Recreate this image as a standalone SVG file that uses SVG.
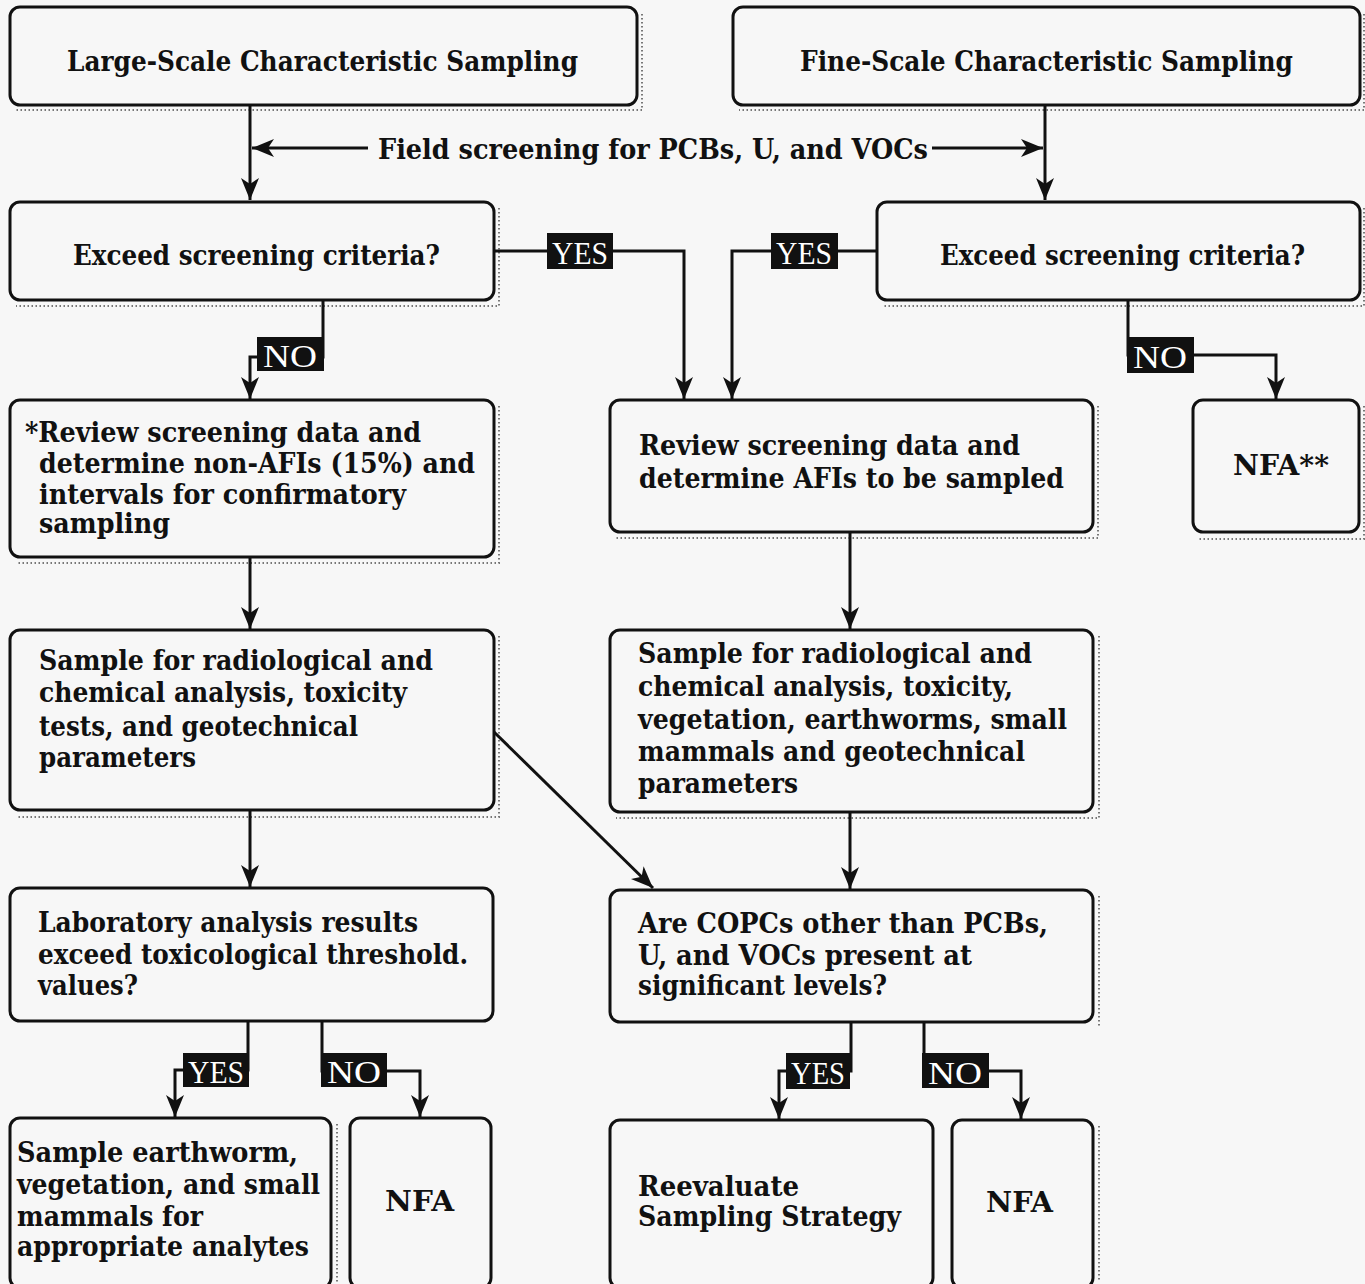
<svg xmlns="http://www.w3.org/2000/svg" width="1365" height="1284" viewBox="0 0 1365 1284">
<defs>
<style>
.bg{fill:#f7f7f7}
.box{fill:#f7f7f7;stroke:#111;stroke-width:3}
.shade{fill:none;stroke:#777;stroke-width:2;stroke-dasharray:1.5 2.5}
.t{font-family:"DejaVu Serif","Liberation Serif",serif;font-weight:bold;fill:#111}
.t30{font-size:27.5px}
.t26{font-size:27px}
.conn{fill:none;stroke:#111;stroke-width:3}
.lab{fill:#111}
.lt{font-family:"Liberation Serif",serif;font-size:31px;fill:#fff;text-anchor:middle}
</style>
<marker id="ah" markerUnits="userSpaceOnUse" markerWidth="24" markerHeight="20" viewBox="0 0 24 20" refX="22" refY="10" orient="auto">
<path d="M0,1 L22,10 L0,19 L6,10 Z" fill="#111"/>
</marker>
</defs>
<rect class="bg" x="0" y="0" width="1365" height="1284"/>

<g id="shadows">
<path class="shade" d="M642,14 V110 H16"/>
<path class="shade" d="M1364,14 V110 H739"/>
<path class="shade" d="M499,208 V306 H16"/>
<path class="shade" d="M1364,208 V306 H883"/>
<path class="shade" d="M499,406 V563 H16"/>
<path class="shade" d="M1098,406 V538 H616"/>
<path class="shade" d="M1364,406 V539 H1199"/>
<path class="shade" d="M499,636 V817 H16"/>
<path class="shade" d="M1099,636 V818 H616"/>
<path class="shade" d="M1099,896 V1028"/>
<path class="shade" d="M337,1124 V1282"/>
<path class="shade" d="M1099,1126 V1282"/>
</g>

<g id="connectors">
<path class="conn" d="M250,105 V200" marker-end="url(#ah)"/>
<path class="conn" d="M1045,105 V200" marker-end="url(#ah)"/>
<path class="conn" d="M368,148 H252" marker-end="url(#ah)"/>
<path class="conn" d="M932,148 H1043" marker-end="url(#ah)"/>
<path class="conn" d="M494,251 H684 V399" marker-end="url(#ah)"/>
<path class="conn" d="M877,251 H732 V399" marker-end="url(#ah)"/>
<path class="conn" d="M323,300 V357 H250 V399" marker-end="url(#ah)"/>
<path class="conn" d="M1128,300 V355 H1276 V399" marker-end="url(#ah)"/>
<path class="conn" d="M250,557 V629" marker-end="url(#ah)"/>
<path class="conn" d="M850,532 V629" marker-end="url(#ah)"/>
<path class="conn" d="M494,732 L653,888" marker-end="url(#ah)"/>
<path class="conn" d="M250,810 V887" marker-end="url(#ah)"/>
<path class="conn" d="M850,812 V889" marker-end="url(#ah)"/>
<path class="conn" d="M248,1020 V1070 H175 V1117" marker-end="url(#ah)"/>
<path class="conn" d="M322,1020 V1071 H420 V1117" marker-end="url(#ah)"/>
<path class="conn" d="M851,1022 V1071 H779 V1119" marker-end="url(#ah)"/>
<path class="conn" d="M924,1022 V1071 H1021 V1119" marker-end="url(#ah)"/>
</g>

<g id="labels">
<rect class="lab" x="547" y="233" width="66" height="36"/>
<text class="lt" x="580" y="264" textLength="56" lengthAdjust="spacingAndGlyphs">YES</text>
<rect class="lab" x="771" y="233" width="67" height="36"/>
<text class="lt" x="804" y="264" textLength="56" lengthAdjust="spacingAndGlyphs">YES</text>
<rect class="lab" x="257" y="337" width="67" height="34"/>
<text class="lt" x="290" y="367" textLength="54" lengthAdjust="spacingAndGlyphs">NO</text>
<rect class="lab" x="1127" y="337" width="67" height="36"/>
<text class="lt" x="1160" y="368" textLength="54" lengthAdjust="spacingAndGlyphs">NO</text>
<rect class="lab" x="183" y="1053" width="66" height="34"/>
<text class="lt" x="216" y="1083" textLength="56" lengthAdjust="spacingAndGlyphs">YES</text>
<rect class="lab" x="321" y="1053" width="66" height="34"/>
<text class="lt" x="354" y="1083" textLength="54" lengthAdjust="spacingAndGlyphs">NO</text>
<rect class="lab" x="786" y="1053" width="64" height="36"/>
<text class="lt" x="818" y="1084" textLength="54" lengthAdjust="spacingAndGlyphs">YES</text>
<rect class="lab" x="922" y="1053" width="67" height="35"/>
<text class="lt" x="955" y="1084" textLength="54" lengthAdjust="spacingAndGlyphs">NO</text>
</g>

<g id="field-screening">
<text class="t t30" x="378" y="159" textLength="550" lengthAdjust="spacingAndGlyphs">Field screening for PCBs, U, and VOCs</text>
</g>

<g id="large-scale">
<rect class="box" x="10" y="7" width="627" height="98" rx="10"/>
<text class="t t30" x="67" y="71" textLength="511" lengthAdjust="spacingAndGlyphs">Large-Scale Characteristic Sampling</text>
</g>

<g id="fine-scale">
<rect class="box" x="733" y="7" width="627" height="98" rx="10"/>
<text class="t t30" x="800" y="71" textLength="493" lengthAdjust="spacingAndGlyphs">Fine-Scale Characteristic Sampling</text>
</g>

<g id="exceed-left">
<rect class="box" x="10" y="202" width="484" height="98" rx="10"/>
<text class="t t30" x="73" y="265" textLength="367" lengthAdjust="spacingAndGlyphs">Exceed screening criteria?</text>
</g>

<g id="exceed-right">
<rect class="box" x="877" y="202" width="483" height="98" rx="10"/>
<text class="t t30" x="940" y="265" textLength="365" lengthAdjust="spacingAndGlyphs">Exceed screening criteria?</text>
</g>

<g id="review-left">
<rect class="box" x="10" y="400" width="484" height="157" rx="10"/>
<text class="t t26" x="25" y="442" textLength="396" lengthAdjust="spacingAndGlyphs">*Review screening data and</text>
<text class="t t26" x="39" y="473" textLength="436" lengthAdjust="spacingAndGlyphs">determine non-AFIs (15%) and</text>
<text class="t t26" x="39" y="504" textLength="367" lengthAdjust="spacingAndGlyphs">intervals for confirmatory</text>
<text class="t t26" x="39" y="533" textLength="131" lengthAdjust="spacingAndGlyphs">sampling</text>
</g>

<g id="review-right">
<rect class="box" x="610" y="400" width="483" height="132" rx="10"/>
<text class="t t26" x="639" y="455" textLength="381" lengthAdjust="spacingAndGlyphs">Review screening data and</text>
<text class="t t26" x="639" y="488" textLength="425" lengthAdjust="spacingAndGlyphs">determine AFIs to be sampled</text>
</g>

<g id="nfa-top">
<rect class="box" x="1193" y="400" width="166" height="132" rx="10"/>
<text class="t t26" x="1233" y="475" textLength="96" lengthAdjust="spacingAndGlyphs">NFA**</text>
</g>

<g id="sample-left">
<rect class="box" x="10" y="630" width="484" height="180" rx="10"/>
<text class="t t26" x="39" y="670" textLength="394" lengthAdjust="spacingAndGlyphs">Sample for radiological and</text>
<text class="t t26" x="39" y="702" textLength="368" lengthAdjust="spacingAndGlyphs">chemical analysis, toxicity</text>
<text class="t t26" x="39" y="736" textLength="319" lengthAdjust="spacingAndGlyphs">tests, and geotechnical</text>
<text class="t t26" x="39" y="767" textLength="157" lengthAdjust="spacingAndGlyphs">parameters</text>
</g>

<g id="sample-right">
<rect class="box" x="610" y="630" width="483" height="182" rx="10"/>
<text class="t t26" x="638" y="663" textLength="394" lengthAdjust="spacingAndGlyphs">Sample for radiological and</text>
<text class="t t26" x="638" y="696" textLength="375" lengthAdjust="spacingAndGlyphs">chemical analysis, toxicity,</text>
<text class="t t26" x="638" y="729" textLength="429" lengthAdjust="spacingAndGlyphs">vegetation, earthworms, small</text>
<text class="t t26" x="638" y="761" textLength="387" lengthAdjust="spacingAndGlyphs">mammals and geotechnical</text>
<text class="t t26" x="638" y="793" textLength="160" lengthAdjust="spacingAndGlyphs">parameters</text>
</g>

<g id="lab-analysis">
<rect class="box" x="10" y="888" width="483" height="133" rx="10"/>
<text class="t t26" x="38" y="932" textLength="380" lengthAdjust="spacingAndGlyphs">Laboratory analysis results</text>
<text class="t t26" x="38" y="964" textLength="430" lengthAdjust="spacingAndGlyphs">exceed toxicological threshold.</text>
<text class="t t26" x="38" y="995" textLength="100" lengthAdjust="spacingAndGlyphs">values?</text>
</g>

<g id="copcs">
<rect class="box" x="610" y="890" width="483" height="132" rx="10"/>
<text class="t t26" x="638" y="933" textLength="410" lengthAdjust="spacingAndGlyphs">Are COPCs other than PCBs,</text>
<text class="t t26" x="638" y="965" textLength="334" lengthAdjust="spacingAndGlyphs">U, and VOCs present at</text>
<text class="t t26" x="638" y="995" textLength="249" lengthAdjust="spacingAndGlyphs">significant levels?</text>
</g>

<g id="sample-earthworm">
<rect class="box" x="10" y="1118" width="321" height="170" rx="10"/>
<text class="t t26" x="17" y="1162" textLength="281" lengthAdjust="spacingAndGlyphs">Sample earthworm,</text>
<text class="t t26" x="17" y="1194" textLength="303" lengthAdjust="spacingAndGlyphs">vegetation, and small</text>
<text class="t t26" x="17" y="1226" textLength="186" lengthAdjust="spacingAndGlyphs">mammals for</text>
<text class="t t26" x="17" y="1256" textLength="292" lengthAdjust="spacingAndGlyphs">appropriate analytes</text>
</g>

<g id="nfa-left">
<rect class="box" x="350" y="1118" width="141" height="170" rx="10"/>
<text class="t t26" x="385" y="1211" textLength="69" lengthAdjust="spacingAndGlyphs">NFA</text>
</g>

<g id="reevaluate">
<rect class="box" x="610" y="1120" width="323" height="168" rx="10"/>
<text class="t t26" x="638" y="1196" textLength="161" lengthAdjust="spacingAndGlyphs">Reevaluate</text>
<text class="t t26" x="638" y="1226" textLength="263" lengthAdjust="spacingAndGlyphs">Sampling Strategy</text>
</g>

<g id="nfa-right">
<rect class="box" x="952" y="1120" width="141" height="168" rx="10"/>
<text class="t t26" x="986" y="1212" textLength="67" lengthAdjust="spacingAndGlyphs">NFA</text>
</g>
</svg>
